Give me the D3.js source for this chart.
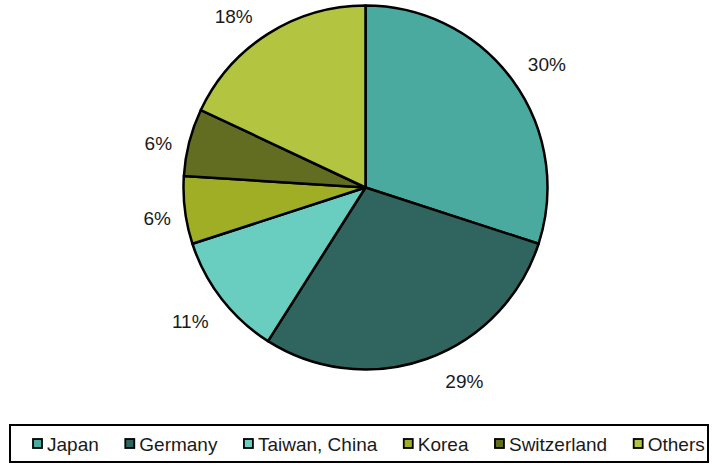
<!DOCTYPE html>
<html>
<head>
<meta charset="utf-8">
<script src="https://cdn.jsdelivr.net/npm/d3@7"></script>
<style>
  html, body { margin: 0; padding: 0; background: #fff; }
  svg { display: block; font-family: "Liberation Sans", Arial, sans-serif; }
</style>
</head>
<body>
<svg id="chart" width="712" height="466"></svg>
<script>
// Share of total by country / region
const categories = ["Japan", "Germany", "Taiwan, China", "Korea", "Switzerland", "Others"];
const shares = [30, 29, 11, 6, 6, 18];
const labels = ["30%", "29%", "11%", "6%", "6%", "18%"];
const colors = ["#4aaa9f", "#2f655e", "#69cdc0", "#a0ae25", "#626d22", "#b3c441"];

// Small offsets that keep the percentage labels clear of the pie edge and the top border
const labelNudge = [[5, 5], [25, -11], [-3, 0], [8, 4], [4, 10], [-15, 13]];

const svg = d3.select("#chart");
const cx = 365.5, cy = 187.5, radius = 182;

const data = categories.map((c, i) => ({ name: c, value: shares[i], label: labels[i], color: colors[i] }));

const pie = d3.pie().value(d => d.value).sort(null);
const arcs = pie(data);

const arc = d3.arc().innerRadius(0).outerRadius(radius);
const labelArc = d3.arc().innerRadius(218).outerRadius(218);

const g = svg.append("g").attr("transform", `translate(${cx},${cy})`);

g.selectAll("path.slice")
  .data(arcs)
  .join("path")
  .attr("class", "slice")
  .attr("d", arc)
  .attr("fill", d => d.data.color)
  .attr("stroke", "#000")
  .attr("stroke-width", 2.5)
  .attr("stroke-linejoin", "round");

g.selectAll("text.pct")
  .data(arcs)
  .join("text")
  .attr("class", "pct")
  .attr("transform", (d, i) => {
    const [px, py] = labelArc.centroid(d);
    return `translate(${px + labelNudge[i][0]},${py + labelNudge[i][1]})`;
  })
  .attr("text-anchor", "middle")
  .attr("dy", "0.35em")
  .attr("font-size", 19)
  .attr("fill", "#1a1a1a")
  .text(d => d.data.label);

// Legend box
const legend = svg.append("g");
legend.append("rect")
  .attr("x", 10).attr("y", 425)
  .attr("width", 698).attr("height", 37)
  .attr("fill", "#fff")
  .attr("stroke", "#000")
  .attr("stroke-width", 2);

let x = 33;
const ly = 444;
data.forEach(d => {
  const item = legend.append("g");
  item.append("rect")
    .attr("x", x).attr("y", ly - 5)
    .attr("width", 9).attr("height", 9)
    .attr("fill", d.color)
    .attr("stroke", "#000")
    .attr("stroke-width", 1.8);
  const t = item.append("text")
    .attr("x", x + 14).attr("y", ly)
    .attr("dy", "0.35em")
    .attr("font-size", 19)
    .attr("fill", "#1a1a1a")
    .text(d.name);
  x += 14 + t.node().getComputedTextLength() + 26.5;
});
</script>
</body>
</html>
